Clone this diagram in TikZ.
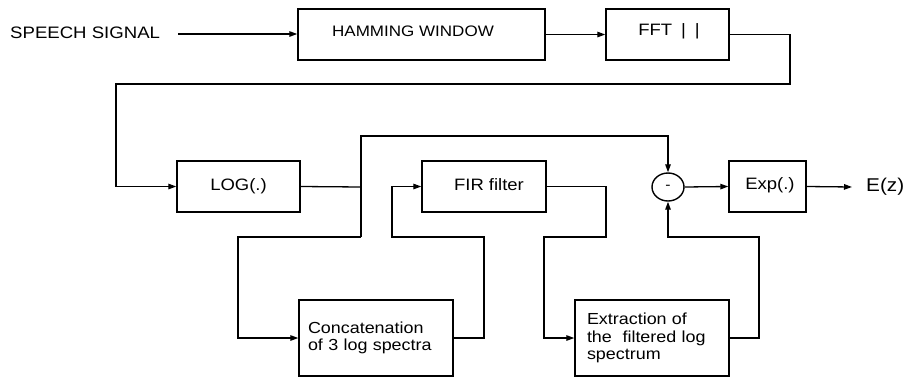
\documentclass[tikz,border=0pt]{standalone}
\usepackage{fontspec}
\setmainfont{Liberation Sans}[FakeStretch=1.12]
\usetikzlibrary{arrows.meta,shapes.geometric}
\tikzset{
  blk/.style={draw,line width=1.4pt,rectangle,inner sep=0pt,minimum height=51pt,font=\fontsize{16.5}{17.5}\selectfont},
  wbox/.style={draw,line width=1.4pt,rectangle,minimum height=76pt,align=left,font=\fontsize{16}{17.5}\selectfont},
  conn/.style={line width=1.3pt},
  arr/.style={line width=1.3pt,-{Triangle[length=8pt,width=5.5pt]}},
}
\begin{document}
\begin{tikzpicture}[x=1pt,y=-1pt]
\useasboundingbox (0,0) rectangle (911,381);
% nodes
\node[anchor=west,inner sep=0pt,font=\fontsize{16.6}{18}\selectfont] (speech) at (10,33) {SPEECH SIGNAL};
\coordinate (s0) at (178,34);
\node[blk,minimum width=247pt] (ham) at (421.5,34.5) {};
\node[font=\fontsize{15.2}{17}\selectfont,inner sep=0pt] (hamt) at (413,31) {HAMMING WINDOW};
\node[blk,minimum width=123pt] (fft) at (667.5,34.5) {};
\node[font=\fontsize{16.5}{17}\selectfont,inner sep=0pt] (fftt) at (669,31) {FFT\hspace{9pt}|\hspace{9pt}|};
\node[blk,minimum width=123pt] (log) at (238.5,186.5) {LOG(.)};
\node[blk,minimum width=124pt] (fir) at (484,186.5) {};
\node[font=\fontsize{16.5}{17}\selectfont,inner sep=0pt] (firt) at (489,185) {FIR filter};
\node[draw,line width=1.4pt,ellipse,minimum width=32pt,minimum height=28pt,inner sep=0pt,font=\fontsize{14}{16}\selectfont] (sub) at (668,187) {-};
\node[blk,minimum width=77pt] (exp) at (767.5,186.5) {};
\node[font=\fontsize{16.5}{17}\selectfont,inner sep=0pt] (expt) at (770,185) {Exp(.)};
\node[anchor=west,inner sep=0pt,font=\fontsize{18.5}{20}\selectfont] (ez) at (866,187) {E(z)};
\coordinate (e0) at (852,187);
\node[wbox,minimum width=154pt,text width=136pt,inner xsep=9pt] (cat) at (376,338) {Concatenation\\of 3 log spectra};
\node[wbox,minimum width=154pt,text width=130pt,inner xsep=12pt] (ext) at (652,338) {Extraction of\\the~ filtered log\\spectrum};
% routing coordinates
\coordinate (j) at (361,187);
\coordinate (jt) at (361,136);
\coordinate (jb) at (361,237);
% connectors
\draw[arr] (s0) -- (ham.west |- s0);
\draw[arr] (ham.east) -- (fft.west);
\draw[arr] (fft.east) -- (790,34.5) -- (790,84) -- (116,84) -- (116,186.5) -- (log.west);
\draw[conn] (log.east) -- (j);
\draw[arr] (jb) -- (jt) -| (sub.north);
\draw[arr] (jb) -- (238,237) |- (cat.west);
\draw[arr] (cat.east) -- (484,338) -- (484,237) -- (392,237) |- (fir.west);
\draw[arr] (fir.east) -- (606,186.5) -- (606,237) -- (544,237) |- (ext.west);
\draw[arr] (ext.east) -- (759,338) -- (759,237) -| (sub.south);
\draw[arr] (sub.east) -- (exp.west);
\draw[arr] (exp.east) -- (e0);
\end{tikzpicture}
\end{document}
